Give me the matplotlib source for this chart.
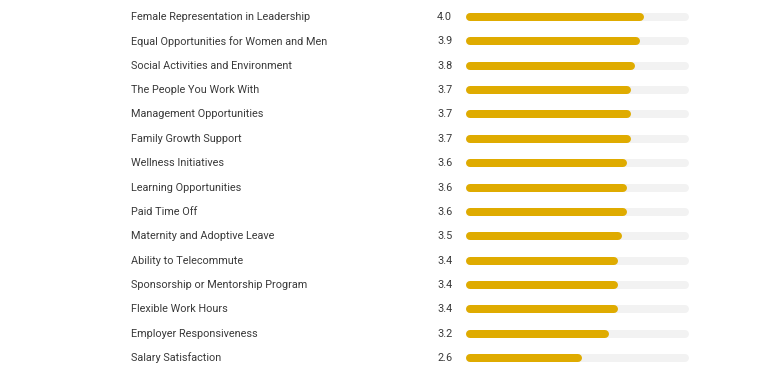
import matplotlib
matplotlib.use("Agg")
import matplotlib.pyplot as plt
from matplotlib.transforms import blended_transform_factory

categories = [
    "Female Representation in Leadership",
    "Equal Opportunities for Women and Men",
    "Social Activities and Environment",
    "The People You Work With",
    "Management Opportunities",
    "Family Growth Support",
    "Wellness Initiatives",
    "Learning Opportunities",
    "Paid Time Off",
    "Maternity and Adoptive Leave",
    "Ability to Telecommute",
    "Sponsorship or Mentorship Program",
    "Flexible Work Hours",
    "Employer Responsiveness",
    "Salary Satisfaction",
]
scores = [4.0, 3.9, 3.8, 3.7, 3.7, 3.7, 3.6, 3.6, 3.6, 3.5, 3.4, 3.4, 3.4, 3.2, 2.6]
max_score = 5.0

plt.rcParams['font.family'] = ['Roboto', 'DejaVu Sans']

W, H = 780, 384
fig = plt.figure(figsize=(W / 100, H / 100), dpi=100)
fig.patch.set_facecolor("white")

# bar track spans 466..689 px, rows from y=17 to y=358
x0, x1 = 466, 689
top, bottom = 17, 358
step = (bottom - top) / (len(categories) - 1)
ax = fig.add_axes([x0 / W, 1 - (bottom + step / 2) / H, (x1 - x0) / W, (bottom - top + step) / H])
ax.set_xlim(0, max_score)
ax.set_ylim(len(categories) - 0.5, -0.5)
ax.axis("off")

lw_px = 8
lw = lw_px * 72 / 100
r = (lw_px / 2) / (x1 - x0) * max_score

for i, (cat, val) in enumerate(zip(categories, scores)):
    ax.plot([r, max_score - r], [i, i], color="#f2f2f2", lw=lw, solid_capstyle="round")
    ax.plot([r, val - r], [i, i], color="#dfab00", lw=lw, solid_capstyle="round")

trans = blended_transform_factory(fig.transFigure, ax.transData)
for i, (cat, val) in enumerate(zip(categories, scores)):
    ax.text(131 / W, i, cat, transform=trans, ha="left", va="center",
            fontsize=7.8, color="#3a3a3a", clip_on=False)
    ax.text(437 / W, i, f"{val:.1f}", transform=trans, ha="left", va="center",
            fontsize=7.8, color="#3a3a3a", clip_on=False)

fig.savefig("out.png", dpi=100, facecolor="white")
